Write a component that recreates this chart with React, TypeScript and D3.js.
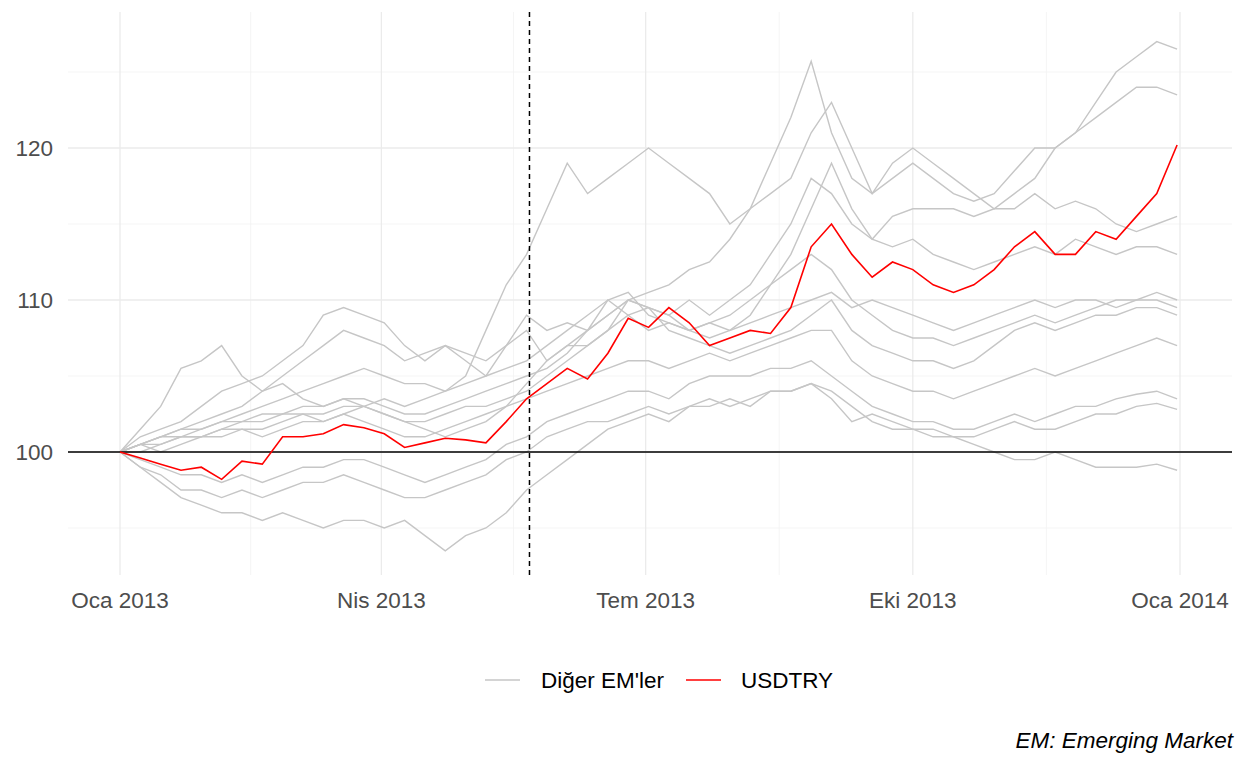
import React from "react";
import * as d3 from "d3";

// weekly index values (2013-01-01 = 100)
const usdtry = [100, 99.6, 99.2, 98.8, 99.0, 98.2, 99.4, 99.2, 101.0, 101.0, 101.2, 101.8, 101.6, 101.2, 100.3, 100.6, 100.9, 100.8, 100.6, 102.0, 103.5, 104.5, 105.5, 104.8, 106.5, 108.8, 108.2, 109.5, 108.5, 107.0, 107.5, 108.0, 107.8, 109.5, 113.5, 115.0, 113.0, 111.5, 112.5, 112.0, 111.0, 110.5, 111.0, 112.0, 113.5, 114.5, 113.0, 113.0, 114.5, 114.0, 115.5, 117.0, 120.2];

const otherEMs: number[][] = [
  [100, 100.5, 100, 100.5, 101, 101, 101.5, 101.5, 102, 102.5, 102, 102.5, 103, 103.5, 103, 103.5, 104, 105, 108, 111, 113, 116, 119, 117, 118, 119, 120, 119, 118, 117, 115, 116, 117, 118, 121, 123, 120, 117, 119, 120, 119, 118, 117, 116, 117, 118, 120, 121, 123, 125, 126, 127, 126.5],
  [100, 101.5, 103, 105.5, 106, 107, 105, 104, 104.5, 103.5, 103, 103.5, 103, 102.5, 102, 101.5, 101, 101.5, 102, 103, 104.5, 106, 107, 107, 108, 110, 110.5, 111, 112, 112.5, 114, 116, 119, 122, 125.7, 121, 118, 117, 118, 119, 118, 117, 116.5, 117, 118.5, 120, 120, 121, 122, 123, 124, 124, 123.5],
  [100, 101, 101.5, 102, 103, 104, 104.5, 105, 106, 107, 109, 109.5, 109, 108.5, 107, 106, 107, 106, 105, 107, 109, 108, 108.5, 108, 109, 110, 109.5, 109, 110, 109, 110, 111, 113, 115, 118, 117, 115, 114, 115.5, 116, 116, 116, 115.5, 116, 116, 117, 116, 116.5, 116, 115, 114.5, 115, 115.5],
  [100, 100.5, 101, 101.5, 102, 102.5, 103, 104, 105, 106, 107, 108, 107.5, 107, 106, 106.5, 107, 106.5, 106, 107, 108, 106, 107, 108, 110, 109, 108, 108.5, 108, 107.5, 108, 109, 111, 113, 116, 119, 116, 114, 113.5, 114, 113, 112.5, 112, 112.5, 113, 113.5, 113, 114, 113.5, 113, 113.5, 113.5, 113],
  [100, 100.5, 101, 101, 101.5, 102, 102.5, 103, 103.5, 104, 104.5, 105, 105.5, 105, 104.5, 104.5, 104, 104.5, 105, 105.5, 106, 107, 108, 109, 110, 110.5, 109, 108.5, 108, 108.5, 109, 110, 111, 112, 113, 112, 110, 109, 108, 107.5, 107.5, 107, 107.5, 108, 108.5, 109, 108.5, 109, 109.5, 110, 110, 110.5, 110],
  [100, 100.5, 101, 101.5, 101.5, 102, 102, 102.5, 102.5, 103, 103, 103.5, 103.5, 103, 102.5, 102.5, 103, 103.5, 104, 104.5, 105, 105.5, 106.5, 108, 109, 110, 109.5, 109, 108, 108.5, 108, 108.5, 109, 109.5, 110, 110.5, 109.5, 110, 109.5, 109, 108.5, 108, 108.5, 109, 109.5, 110, 109.5, 110, 110, 109.5, 110, 110, 109.5],
  [100, 100, 100.5, 101, 101, 101.5, 102, 102, 102.5, 102.5, 102.5, 103, 103, 102.5, 102, 102, 102.5, 103, 103, 103.5, 104, 105, 106, 107, 108, 109, 109.5, 108, 107.5, 107, 106.5, 107, 107.5, 108, 109, 110, 108, 107, 106.5, 106, 106, 105.5, 106, 107, 108, 108.5, 108, 108.5, 109, 109, 109.5, 109.5, 109],
  [100, 100.5, 100.5, 101, 101, 101.5, 101.5, 101, 101.5, 102, 102, 102.5, 102, 101.5, 101, 101, 101.5, 102, 102.5, 103, 103.5, 104, 104.5, 105, 105.5, 106, 106, 105.5, 106, 106.5, 106, 106.5, 107, 107.5, 108, 108, 106, 105, 104.5, 104, 104, 103.5, 104, 104.5, 105, 105.5, 105, 105.5, 106, 106.5, 107, 107.5, 107],
  [100, 99.5, 99, 98.5, 98.5, 98, 98.5, 98, 98.5, 99, 99, 99.5, 99.5, 99, 98.5, 98, 98.5, 99, 99.5, 100.5, 101, 102, 102.5, 103, 103.5, 104, 104, 103.5, 104.5, 105, 105, 105, 105.5, 105.5, 106, 105, 104, 103, 102.5, 102, 102, 101.5, 101.5, 102, 102.5, 102, 102.5, 103, 103, 103.5, 103.8, 104, 103.5],
  [100, 99, 98.5, 97.5, 97.5, 97, 97.5, 97, 97.5, 98, 98, 98.5, 98, 97.5, 97, 97, 97.5, 98, 98.5, 99.5, 100, 101, 101.5, 102, 102, 102.5, 103, 102.5, 103, 103.5, 103, 103.5, 104, 104, 104.5, 104, 103, 102, 101.5, 101.5, 101.5, 101, 101, 101.5, 102, 101.5, 101.5, 102, 102.5, 102.5, 103, 103.2, 102.8],
  [100, 99, 98, 97, 96.5, 96, 96, 95.5, 96, 95.5, 95, 95.5, 95.5, 95, 95.5, 94.5, 93.5, 94.5, 95, 96, 97.5, 98.5, 99.5, 100.5, 101.5, 102, 102.5, 102, 103, 103, 103.5, 103, 104, 104, 104.5, 103.5, 102, 102.5, 102, 101.5, 101, 101, 100.5, 100, 99.5, 99.5, 100, 99.5, 99, 99, 99, 99.2, 98.8],
];

const xTicks = [new Date(2013, 0, 1), new Date(2013, 3, 1), new Date(2013, 6, 1), new Date(2013, 9, 1), new Date(2014, 0, 1)];
const xTickLabels = ["Oca 2013", "Nis 2013", "Tem 2013", "Eki 2013", "Oca 2014"];
const yTicks = [100, 110, 120];
const eventDate = new Date(2013, 4, 22);

const start = new Date(2013, 0, 1);
const dates = usdtry.map((_, i) => d3.timeDay.offset(start, i * 7 > 364 ? 364 : i * 7));

const x = d3.scaleTime().domain([new Date(2013, 0, 1), new Date(2014, 0, 1)]).range([120, 1180]);
const y = d3.scaleLinear().domain([100, 120]).range([452, 148]);
const left = 68, right = 1232, top = 12, bottom = 575;

const line = d3.line<number>().x((_, i) => x(dates[i])).y(d => y(d));

export default function App() {
  const minorX = xTicks.slice(0, -1).map((t, i) => new Date((t.getTime() + xTicks[i + 1].getTime()) / 2));
  const minorY = [95, 105, 115, 125];
  const font = "Liberation Sans, Arial, sans-serif";
  const fs = 22.5;
  return (
    <svg width={1248} height={768} style={{ position: "absolute", left: 0, top: 0 }} fontFamily={font}>
      <rect width={1248} height={768} fill="#fff" />
      {minorY.map(v => <line key={"my" + v} x1={left} x2={right} y1={y(v)} y2={y(v)} stroke="#f2f2f2" strokeWidth={0.8} />)}
      {minorX.map((d, i) => <line key={"mx" + i} x1={x(d)} x2={x(d)} y1={top} y2={bottom} stroke="#f2f2f2" strokeWidth={0.8} />)}
      {yTicks.map(v => <line key={"y" + v} x1={left} x2={right} y1={y(v)} y2={y(v)} stroke="#ebebeb" strokeWidth={1.3} />)}
      {xTicks.map((d, i) => <line key={"x" + i} x1={x(d)} x2={x(d)} y1={top} y2={bottom} stroke="#ebebeb" strokeWidth={1.3} />)}
      {otherEMs.map((s, i) => <path key={i} d={line(s) || ""} fill="none" stroke="#c6c6c6" strokeWidth={1.4} />)}
      <line x1={left} x2={right} y1={y(100)} y2={y(100)} stroke="#000" strokeWidth={1.6} />
      <line x1={x(eventDate)} x2={x(eventDate)} y1={top} y2={bottom} stroke="#000" strokeWidth={1.5} strokeDasharray="5,4" />
      <path d={line(usdtry) || ""} fill="none" stroke="#ff0000" strokeWidth={1.6} />
      {yTicks.map(v => <text key={"yt" + v} x={53} y={y(v)} dy="0.35em" textAnchor="end" fontSize={fs} fill="#4d4d4d">{v}</text>)}
      {xTicks.map((d, i) => <text key={"xt" + i} x={x(d)} y={608} textAnchor="middle" fontSize={fs} fill="#4d4d4d">{xTickLabels[i]}</text>)}
      <line x1={485} x2={520} y1={680} y2={680} stroke="#c6c6c6" strokeWidth={1.6} />
      <text x={541} y={680} dy="0.35em" fontSize={fs} fill="#000">Diğer EM'ler</text>
      <line x1={686} x2={721} y1={680} y2={680} stroke="#ff0000" strokeWidth={1.6} />
      <text x={741} y={680} dy="0.35em" fontSize={fs} fill="#000">USDTRY</text>
      <text x={1233} y={748} textAnchor="end" fontSize={fs} fontStyle="italic" fill="#000">EM: Emerging Market</text>
    </svg>
  );
}
